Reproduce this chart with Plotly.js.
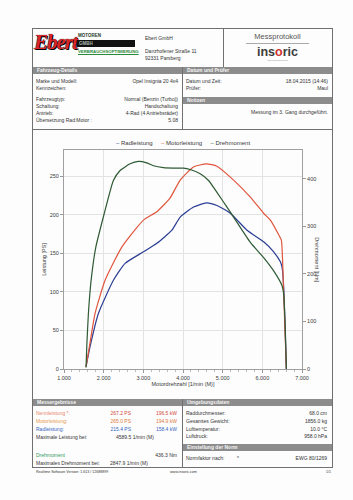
<!DOCTYPE html>
<html><head><meta charset="utf-8">
<script src="https://cdn.plot.ly/plotly-3.0.1.min.js"></script>
<style>
html,body{margin:0;padding:0;background:#fff;}
#page{position:relative;width:353px;height:500px;overflow:hidden;font-family:"Liberation Sans",Arial,sans-serif;color:#333;background:#fdfdfd;}
.t{position:absolute;font-size:5px;line-height:6px;white-space:nowrap;}
.bar{position:absolute;background:#8c8c8c;color:#f4f4f4;font-weight:bold;font-size:5px;line-height:7px;padding-left:4px;box-sizing:border-box;}
.ln{position:absolute;background:#707070;}
#chart{position:absolute;left:0;top:0;width:353px;height:500px;}
</style></head>
<body><div id="page">
<div class="ln" style="left:32px;top:28px;width:300px;height:1px"></div>
<div class="ln" style="left:32px;top:467px;width:301px;height:1px"></div>
<div class="ln" style="left:32px;top:28px;width:1px;height:439px"></div>
<div class="ln" style="left:332px;top:28px;width:1px;height:439px"></div>
<div class="ln" style="left:223px;top:28px;width:1px;height:39px"></div>
<div class="ln" style="left:32px;top:129px;width:300px;height:1px"></div>
<div class="ln" style="left:182px;top:67px;width:1px;height:62px"></div>
<div class="ln" style="left:182px;top:399px;width:1px;height:68px"></div>

<div class="bar" style="left:33px;top:67px;width:149px;height:7px">Fahrzeug-Details</div>
<div class="bar" style="left:183px;top:67px;width:149px;height:7px">Datum und Prüfer</div>
<div class="bar" style="left:183px;top:97px;width:149px;height:7px">Notizen</div>
<div class="bar" style="left:33px;top:399px;width:149px;height:7px">Messergebnisse</div>
<div class="bar" style="left:183px;top:399px;width:149px;height:7px">Umgebungsdaten</div>
<div class="bar" style="left:183px;top:444px;width:149px;height:7px">Einstellung der Norm</div>

<!-- logo -->
<div class="t" style="left:34px;top:30px;font-size:21px;line-height:24px;font-family:'Liberation Serif',serif;font-style:italic;font-weight:bold;color:#d8262a;text-shadow:0 0 1px #000,1px 1px 0 #000;letter-spacing:-1px">Ebert</div>
<div class="t" style="left:78px;top:33px;font-size:4.5px;font-weight:bold;color:#1d3a1d">MOTOREN</div>
<div style="position:absolute;left:77px;top:40px;width:58px;height:7px;background:#111"></div>
<div class="t" style="left:79px;top:40.5px;font-size:4.5px;font-weight:bold;color:#a8b8a8">GMBH</div>
<div class="t" style="left:78px;top:49px;font-size:4.3px;font-weight:bold;color:#2a8a3a;text-decoration:underline">VERBRAUCHSOPTIMIERUNG</div>
<div class="t" style="left:145px;top:35px">Ebert GmbH</div>
<div class="t" style="left:145px;top:48px">Danzhofener Straße 11</div>
<div class="t" style="left:145px;top:55px">92331 Parsberg</div>
<div class="t" style="left:223px;width:109px;text-align:center;top:32px;font-size:7.5px;line-height:9px;color:#555">Messprotokoll</div>
<div style="position:absolute;left:246px;top:43px;width:63px;height:1px;background:#aaa"></div>
<div class="t" style="left:223px;width:109px;text-align:center;top:45px;font-size:12.5px;line-height:14px;font-weight:bold;color:#3c3c3c">ins<span style="color:#d03030">o</span>ric</div>
<div class="t" style="left:223px;width:109px;text-align:center;top:59px;font-size:2px;line-height:3px;color:#888">auto powerbank tuning</div>

<div id="chart"></div>
</div>
<script>
// ---- data ----
var rpmRad = [1556, 1657, 1867, 2245, 2540, 3003, 3341, 3720, 3929, 4265, 4590, 4856, 5192, 5614, 6033, 6286, 6455, 6497, 6538, 6606];
var psRad = [3, 29, 72, 115, 137, 152, 163, 180, 197, 210, 215.4, 212, 202, 180, 165, 152, 139, 132, 107, 0];
var rpmMotor = [1556, 1640, 1783, 2035, 2457, 3003, 3341, 3677, 3929, 4265, 4590, 4856, 5275, 5697, 6033, 6202, 6412, 6480, 6530, 6606];
var psMotor = [3, 29, 72, 115, 158, 193, 204, 222, 245, 262, 266, 263, 245, 223, 202, 193, 174, 167, 110, 0];
var rpmTorque = [1556, 1573, 1614, 1682, 1800, 2010, 2245, 2414, 2667, 2876, 3088, 3255, 3508, 3760, 4013, 4180, 4434, 4644, 4856, 5109, 5275, 5697, 6033, 6286, 6497, 6538, 6580, 6606];
var nmTorque = [3, 45, 115, 185, 255, 325, 396, 417, 431, 436, 433, 427, 423, 422, 422, 419, 410, 396, 371, 340, 319, 266, 234, 206, 175, 157, 80, 0];
var xTickVals = [1000, 2000, 3000, 4000, 5000, 6000, 7000];
var xTickText = ['1.000', '2.000', '3.000', '4.000', '5.000', '6.000', '7.000'];
var psTicks = [0, 50, 100, 150, 200, 250];
var nmTicks = [0, 100, 200, 300, 400];
var seriesNames = ['Radleistung', 'Motorleistung', 'Drehmoment'];
var seriesColors = ['#2b3d94', '#e0553c', '#2e5a34'];

// ---- document text ----
var texts = [
  // [x, y, text, align('l'|'r'), color]
  [36, 81, 'Marke und Modell:', 'l'], [178, 81, 'Opel Insignia 20 4x4', 'r'],
  [36, 88, 'Kennzeichen:', 'l'],
  [36, 99, 'Fahrzeugtyp:', 'l'], [178, 99, 'Normal (Benzin (Turbo))', 'r'],
  [36, 106, 'Schaltung:', 'l'], [178, 106, 'Handschaltung', 'r'],
  [36, 113, 'Antrieb:', 'l'], [178, 113, '4-Rad (4 Antriebsräder)', 'r'],
  [36, 120, 'Übersetzung Rad:Motor :', 'l'], [178, 120, '5.08', 'r'],
  [186, 81, 'Datum und Zeit:', 'l'], [328, 81, '18.04.2015 (14:46)', 'r'],
  [186, 88, 'Prüfer:', 'l'], [328, 88, 'Maul', 'r'],
  [328, 112, 'Messung im 3. Gang durchgeführt.', 'r'],
  [36, 413, 'Nennleistung *:', 'l', '#e8866a'], [131, 413, '267.2 PS', 'r', '#d04a3a'], [177, 413, '196.5 kW', 'r', '#d04a3a'],
  [36, 421, 'Motorleistung:', 'l', '#e89a50'], [131, 421, '265.0 PS', 'r', '#e07a40'], [177, 421, '194.9 kW', 'r', '#e07a40'],
  [36, 429, 'Radleistung:', 'l', '#3566c0'], [131, 429, '215.4 PS', 'r', '#3566c0'], [177, 429, '158.4 kW', 'r', '#3566c0'],
  [36, 437, 'Maximale Leistung bei:', 'l'], [116, 437, '4589.5 1/min (M)', 'l'],
  [36, 455, 'Drehmoment', 'l', '#2f9a5a'], [177, 455, '436.3 Nm', 'r'],
  [36, 463, 'Maximales Drehmoment bei:', 'l'], [110, 463, '2847.9 1/min (M)', 'l'],
  [186, 413, 'Raddurchmesser:', 'l'], [327, 413, '68.0 cm', 'r'],
  [186, 421, 'Gesamtes Gewicht:', 'l'], [327, 421, '1856.0 kg', 'r'],
  [186, 429, 'Lufttemperatur:', 'l'], [327, 429, '10.0 °C', 'r'],
  [186, 436, 'Luftdruck:', 'l'], [327, 436, '958.0 hPa', 'r'],
  [186, 458, 'Normfaktor nach:', 'l'], [237, 458, '*', 'l'], [327, 458, 'EWG 80/1269', 'r']
];
var page = document.getElementById('page');
texts.forEach(function (t) {
  var d = document.createElement('div');
  d.className = 't';
  d.textContent = t[2];
  d.style.top = (t[1] - 3) + 'px';
  if (t[3] === 'r') d.style.right = (353 - t[0]) + 'px'; else d.style.left = t[0] + 'px';
  if (t[4]) d.style.color = t[4];
  page.appendChild(d);
});
var foot = [[36, 472, 'Realtime Software Version: 1.613 / 12688899', 'l'], [170, 472, 'www.insoric.com', 'l'], [331, 472, '1/1', 'r']];
foot.forEach(function (t) {
  var d = document.createElement('div');
  d.className = 't';
  d.textContent = t[2];
  d.style.fontSize = '3.6px';
  d.style.top = (t[1] - 3) + 'px';
  if (t[3] === 'r') d.style.right = (353 - t[0]) + 'px'; else d.style.left = t[0] + 'px';
  page.appendChild(d);
});

// ---- chart ----
var line = {width: 1.2, shape: 'spline', smoothing: 0.5};
var traces = [
  {x: rpmRad, y: psRad, name: seriesNames[0], mode: 'lines', line: Object.assign({color: seriesColors[0]}, line)},
  {x: rpmMotor, y: psMotor, name: seriesNames[1], mode: 'lines', line: Object.assign({color: seriesColors[1]}, line)},
  {x: rpmTorque, y: nmTorque, name: seriesNames[2], mode: 'lines', yaxis: 'y2', line: Object.assign({color: seriesColors[2]}, line)}
];
var legendText = seriesNames.map(function (n, i) {
  return '<span style="color:' + seriesColors[i] + '">–</span> ' + n;
}).join('     ');
var layout = {
  width: 353, height: 500,
  margin: {l: 64, r: 51, t: 150, b: 131, pad: 0},
  paper_bgcolor: 'rgba(0,0,0,0)', plot_bgcolor: 'rgba(0,0,0,0)',
  showlegend: false,
  font: {family: 'Liberation Sans, Arial, sans-serif', size: 5.5, color: '#3a3a3a'},
  xaxis: {
    range: [1000, 7000], tickvals: xTickVals, ticktext: xTickText,
    showgrid: true, gridcolor: '#e3e3e3', gridwidth: 1,
    showline: true, linecolor: '#a0a0a0', mirror: true, zeroline: false,
    ticks: 'outside', ticklen: 3, tickcolor: '#999',
    minor: {dtick: 200, ticks: 'outside', ticklen: 2, tickcolor: '#bbb', showgrid: false},
    tickfont: {size: 5.5},
    title: {text: 'Motordrehzahl [1/min (M)]', font: {size: 5.5}, standoff: 2}
  },
  yaxis: {
    range: [0, 284], tickvals: psTicks,
    showgrid: true, gridcolor: '#e3e3e3',
    showline: true, linecolor: '#a0a0a0', zeroline: false,
    ticks: 'outside', ticklen: 3, tickcolor: '#999', tickfont: {size: 5.5},
    title: {text: 'Leistung [PS]', font: {size: 5.5}, standoff: 2}
  },
  yaxis2: {
    overlaying: 'y', side: 'right', range: [0, 460], tickvals: nmTicks,
    showgrid: false, showline: true, linecolor: '#a0a0a0', zeroline: false,
    ticks: 'outside', ticklen: 3, tickcolor: '#999', tickfont: {size: 5.5}
  },
  annotations: [
    {xref: 'paper', yref: 'paper', x: 1.083, y: 0.498, text: 'Drehmoment [Nm]', textangle: 90, showarrow: false, font: {size: 5.5}},
    {xref: 'paper', yref: 'paper', x: 0.5, y: 1.032, yanchor: 'middle', xanchor: 'center', text: legendText, showarrow: false, font: {size: 6, color: '#3a3a3a'}}
  ]
};
Plotly.newPlot('chart', traces, layout, {displayModeBar: false, staticPlot: true});
</script>
</body></html>
